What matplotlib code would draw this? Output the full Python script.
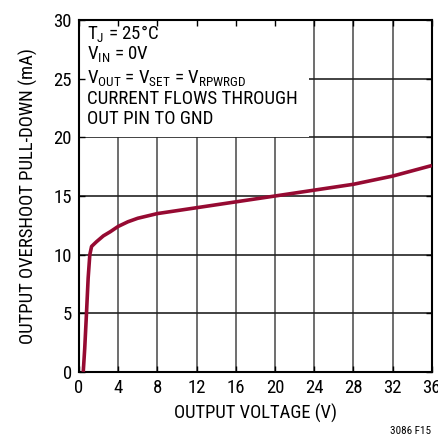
import matplotlib
matplotlib.use("Agg")
import matplotlib.pyplot as plt
from matplotlib.patches import Rectangle

# values
vout = [0.45, 0.6, 0.78, 0.95, 1.12, 1.3, 1.8, 2.5, 3.2, 4, 5, 6, 8, 10, 12, 16, 20, 24, 28, 32, 36]
iout = [0.0, 2.0, 5.0, 8.0, 10.0, 10.7, 11.1, 11.6, 11.95, 12.4, 12.8, 13.1, 13.5, 13.75, 14.0, 14.5, 15.0, 15.5, 16.0, 16.7, 17.6]
xticks = [0, 4, 8, 12, 16, 20, 24, 28, 32, 36]
yticks = [0, 5, 10, 15, 20, 25, 30]
notes = [r"$\mathregular{T_J}$ = 25°C",
         r"$\mathregular{V_{IN}}$ = 0V",
         r"$\mathregular{V_{OUT}}$ = $\mathregular{V_{SET}}$ = $\mathregular{V_{RPWRGD}}$",
         "CURRENT FLOWS THROUGH",
         "OUT PIN TO GND"]

font = "Roboto Condensed"
plt.rcParams["font.family"] = [font, "DejaVu Sans"]
plt.rcParams["mathtext.fontset"] = "custom"
plt.rcParams["mathtext.rm"] = font

fig = plt.figure(figsize=(4.38, 4.38), dpi=100)
ax = fig.add_axes([0.180, 0.151, 0.806, 0.803])

# grid drawn by hand so the note box can cover it while ticks stay on top
for x in xticks:
    ax.axvline(x, color="#555555", lw=1.2, zorder=0.5)
for y in yticks:
    ax.axhline(y, color="#222222", lw=1.2, zorder=0.5)

ax.add_patch(Rectangle((0, 20), 23.5, 10, facecolor="white", edgecolor="none", zorder=1))

ax.plot(vout, iout, color="#960a32", lw=2.6, solid_capstyle="butt", zorder=3)

ax.set_xlim(0, 36)
ax.set_ylim(0, 30)
ax.set_xticks(xticks)
ax.set_yticks(yticks)
ax.tick_params(direction="in", length=4, width=1, labelsize=13.5, top=True, right=True, pad=5)
for s in ax.spines.values():
    s.set_linewidth(1.5)

ax.set_xlabel("OUTPUT VOLTAGE (V)", fontsize=13.4, labelpad=5)
ax.set_ylabel("OUTPUT OVERSHOOT PULL-DOWN (mA)", fontsize=13.5, labelpad=11)

for t, yb in zip(notes, [28.35, 26.72, 24.63, 22.84, 21.13]):
    ax.text(0.8, yb, t, fontsize=13.6, va="baseline", ha="left", zorder=4)

fig.text(0.985, 0.005, "3086 F15", fontsize=8, ha="right", va="bottom")

fig.savefig("out.png", dpi=100)
